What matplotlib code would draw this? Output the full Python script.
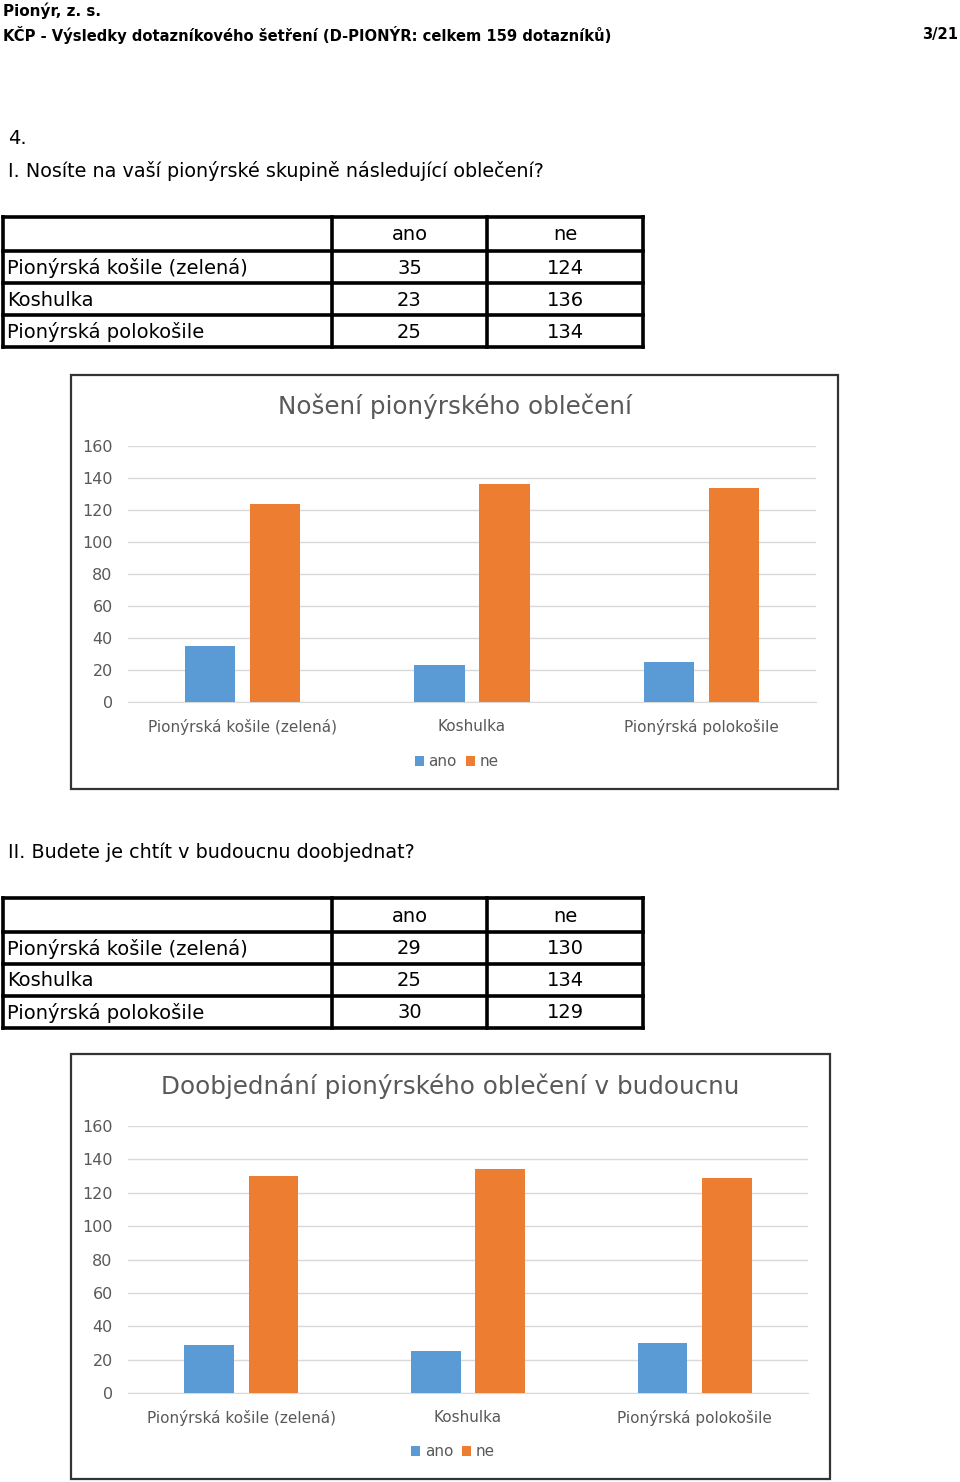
import matplotlib
matplotlib.use('Agg')
import matplotlib.pyplot as plt
from matplotlib.patches import Rectangle
import numpy as np

plt.rcParams['font.family'] = ['DejaVu Sans']

# data
categories = ['Pionýrská košile (zelená)', 'Koshulka', 'Pionýrská polokošile']
series_names = ['ano', 'ne']
nosi_ano = [35, 23, 25]
nosi_ne = [124, 136, 134]
doobj_ano = [29, 25, 30]
doobj_ne = [130, 134, 129]
y_ticks = [0, 20, 40, 60, 80, 100, 120, 140, 160]

BLUE = '#5B9BD5'
ORANGE = '#ED7D31'
GRAY = '#595959'

W, H = 960, 1482
fig = plt.figure(figsize=(W / 100, H / 100), dpi=100)

# page axes in pixel coordinates
page = fig.add_axes([0, 0, 1, 1])
page.set_xlim(0, W)
page.set_ylim(H, 0)
page.axis('off')

page.text(3, 11, 'Pionýr, z. s.', fontsize=11, fontweight='bold', va='center')
page.text(3, 35, 'KČP - Výsledky dotazníkového šetření (D-PIONÝR: celkem 159 dotazníků)',
          fontsize=10.6, fontweight='bold', va='center')
page.text(958, 35, '3/21', fontsize=10.6, fontweight='bold', va='center', ha='right')
page.text(8, 139, '4.', fontsize=14, va='center')
page.text(8, 171, 'I. Nosíte na vaší pionýrské skupině následující oblečení?', fontsize=13.8, va='center')
page.text(8, 852, 'II. Budete je chtít v budoucnu doobjednat?', fontsize=13.8, va='center')


def draw_table(top, ano, ne):
    cols = [3, 332, 487, 643]
    rows = [top, top + 34, top + 66, top + 98, top + 130]
    for x in cols:
        page.plot([x, x], [rows[0], rows[-1]], color='black', lw=2.6, solid_capstyle='projecting')
    for y in rows:
        page.plot([cols[0], cols[-1]], [y, y], color='black', lw=2.6, solid_capstyle='projecting')
    ymid = [(rows[i] + rows[i + 1]) / 2 + 1 for i in range(4)]
    fs = 14
    page.text((cols[1] + cols[2]) / 2, ymid[0], series_names[0], fontsize=fs, ha='center', va='center')
    page.text((cols[2] + cols[3]) / 2, ymid[0], series_names[1], fontsize=fs, ha='center', va='center')
    for i, cat in enumerate(categories):
        page.text(7, ymid[i + 1], cat, fontsize=fs, va='center')
        page.text((cols[1] + cols[2]) / 2, ymid[i + 1], str(ano[i]), fontsize=fs, ha='center', va='center')
        page.text((cols[2] + cols[3]) / 2, ymid[i + 1], str(ne[i]), fontsize=fs, ha='center', va='center')


def draw_chart(box, plot_area, title, ano, ne, title_y, legend_y):
    bx0, by0, bx1, by1 = box
    page.add_patch(Rectangle((bx0, by0), bx1 - bx0, by1 - by0, fill=False,
                             edgecolor='#333333', lw=1.6))
    px0, ptop, px1, pbot = plot_area
    page.text((bx0 + bx1) / 2, title_y, title, fontsize=17.7, color=GRAY, ha='center', va='center')
    ax = fig.add_axes([px0 / W, 1 - pbot / H, (px1 - px0) / W, (pbot - ptop) / H])
    x = np.arange(len(categories))
    w = 0.22
    off = 0.142
    ax.bar(x - off, ano, w, color=BLUE, label=series_names[0], zorder=3)
    ax.bar(x + off, ne, w, color=ORANGE, label=series_names[1], zorder=3)
    ax.set_xlim(-0.5, len(categories) - 0.5)
    ax.set_ylim(0, 160)
    ax.set_yticks(y_ticks)
    ax.set_xticks(x)
    ax.set_xticklabels(categories)
    ax.grid(axis='y', color='#D9D9D9', lw=1, zorder=0)
    for s in ['top', 'right', 'left']:
        ax.spines[s].set_visible(False)
    ax.spines['bottom'].set_color('#D9D9D9')
    ax.tick_params(axis='both', length=0, labelcolor=GRAY)
    ax.tick_params(axis='y', pad=11, labelsize=11.5)
    ax.tick_params(axis='x', pad=12, labelsize=11)
    ax.patch.set_alpha(0)
    leg = ax.legend(loc='center', bbox_to_anchor=(0.478, 1 - (legend_y - ptop) / (pbot - ptop)),
                    ncol=2, frameon=False, fontsize=11, handlelength=0.6, handleheight=0.6,
                    handletextpad=0.3, columnspacing=0.6)
    for t in leg.get_texts():
        t.set_color(GRAY)
    return ax


draw_table(217, nosi_ano, nosi_ne)
draw_chart((71, 375, 838, 789), (128, 446, 816, 702), 'Nošení pionýrského oblečení',
           nosi_ano, nosi_ne, 406, 762)

draw_table(898, doobj_ano, doobj_ne)
draw_chart((71, 1054, 830, 1479), (128, 1126, 808, 1393), 'Doobjednání pionýrského oblečení v budoucnu',
           doobj_ano, doobj_ne, 1086, 1452)

fig.savefig('out.png', dpi=100)
